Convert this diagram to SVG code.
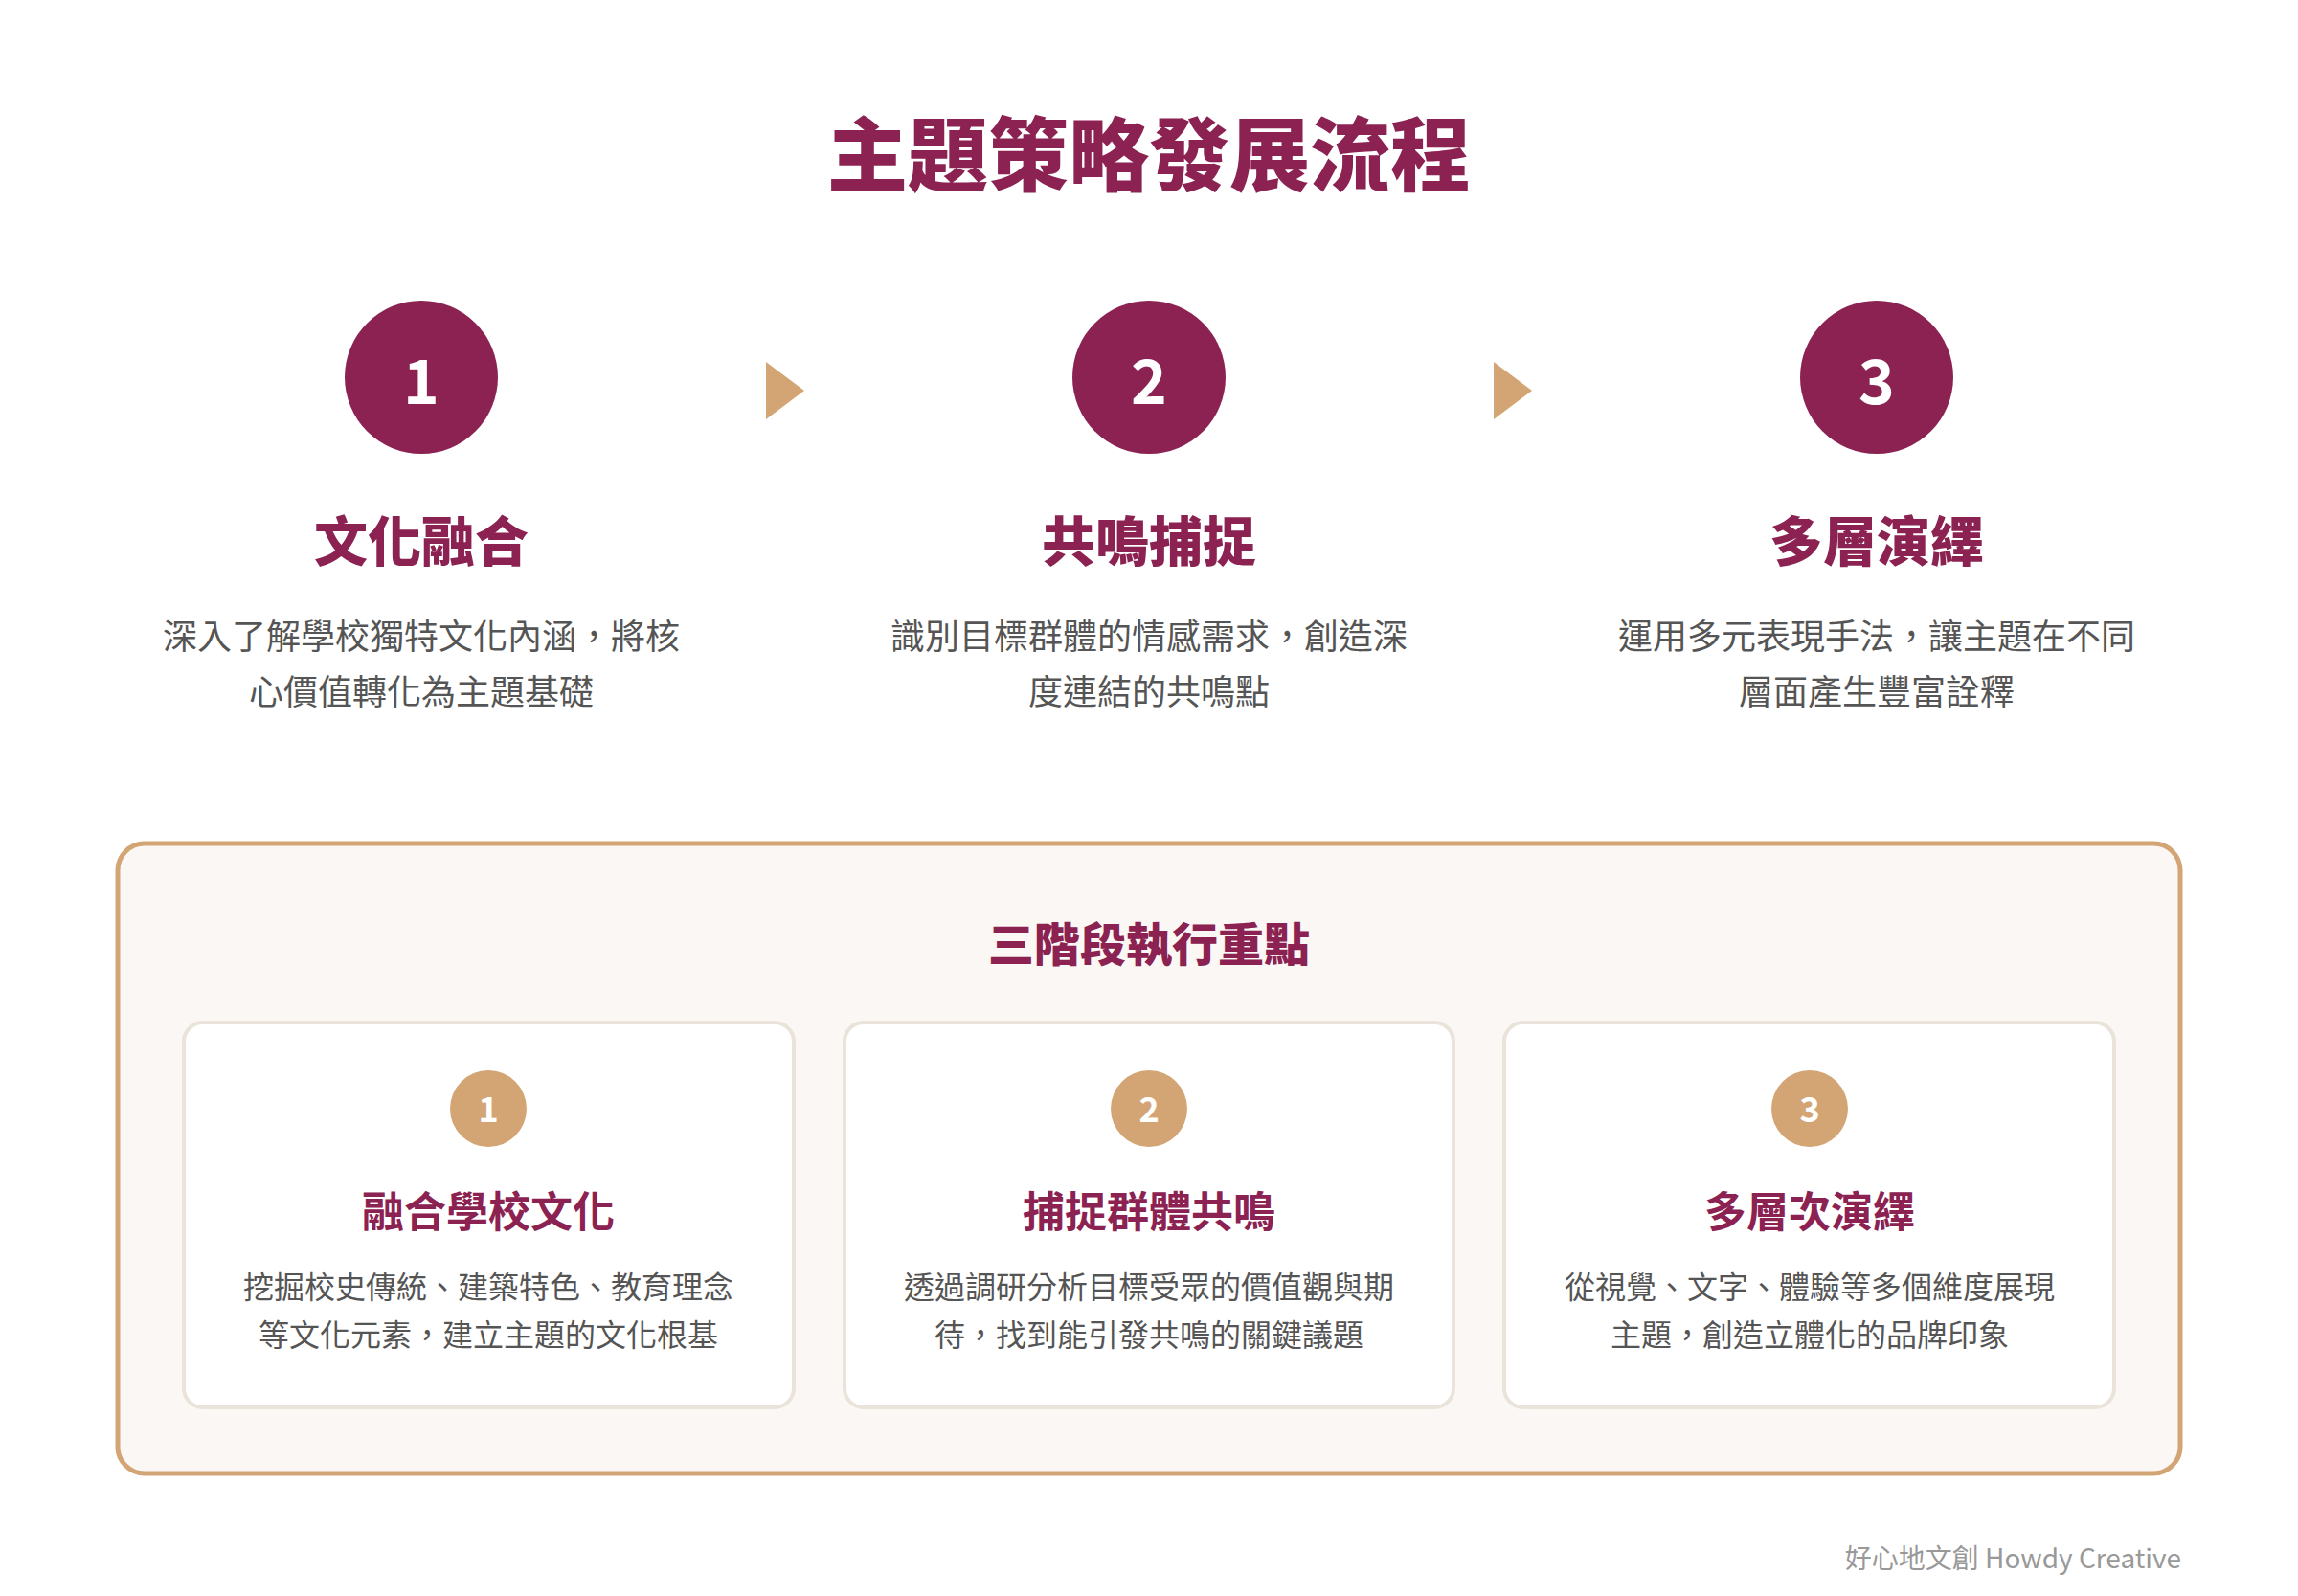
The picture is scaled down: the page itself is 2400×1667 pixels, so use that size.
<svg xmlns="http://www.w3.org/2000/svg" width="2400" height="1667" viewBox="0 0 2400 1667">
<style>
text{font-family:"Noto Sans CJK TC","Noto Sans CJK SC",sans-serif;text-anchor:middle}
.title{font-size:84px;font-weight:900;fill:#8B2252}
.bignum{fill:#8B2252}
.num{font-size:64px;font-weight:700;fill:#fff}
.stitle{font-size:56px;font-weight:900;fill:#8B2252}
.desc{font-size:36px;fill:#555}
.arrow{fill:#D4A574}
.box{fill:#FAF7F4;stroke:#D4A574;stroke-width:5}
.card{fill:#fff;stroke:#EAE3DA;stroke-width:4}
.snum{fill:#D4A574}
.snumt{font-size:36px;font-weight:700;fill:#fff}
.ctitle{font-size:44px;font-weight:700;fill:#8B2252}
.ctext{font-size:32px;fill:#555}
.sec{font-size:48px;font-weight:900;fill:#8B2252}
.foot{font-size:28px;fill:#999;text-anchor:end}
</style>
<rect width="2400" height="1667" fill="#fff"/>
<text class="title" x="1200" y="193">主題策略發展流程</text>

<g id="step1">
<circle class="bignum" cx="440" cy="394" r="80"/>
<text class="num" x="440" y="422">1</text>
<text class="stitle" x="440" y="586">文化融合</text>
<text class="desc" x="440" y="678">深入了解學校獨特文化內涵，將核</text>
<text class="desc" x="440" y="736">心價值轉化為主題基礎</text>
</g>
<g id="step2">
<circle class="bignum" cx="1200" cy="394" r="80"/>
<text class="num" x="1200" y="422">2</text>
<text class="stitle" x="1200" y="586">共鳴捕捉</text>
<text class="desc" x="1200" y="678">識別目標群體的情感需求，創造深</text>
<text class="desc" x="1200" y="736">度連結的共鳴點</text>
</g>
<g id="step3">
<circle class="bignum" cx="1960" cy="394" r="80"/>
<text class="num" x="1960" y="422">3</text>
<text class="stitle" x="1960" y="586">多層演繹</text>
<text class="desc" x="1960" y="678">運用多元表現手法，讓主題在不同</text>
<text class="desc" x="1960" y="736">層面產生豐富詮釋</text>
</g>

<g id="connectors">
<polygon class="arrow" points="800,378 840,408 800,438"/>
<polygon class="arrow" points="1560,378 1600,408 1560,438"/>
</g>

<g id="summary">
<rect class="box" x="123" y="881" width="2154" height="658" rx="28"/>
<text class="sec" x="1200" y="1004">三階段執行重點</text>
</g>

<g id="card1">
<rect class="card" x="192" y="1068" width="637" height="402" rx="20"/>
<circle class="snum" cx="510" cy="1158" r="40"/>
<text class="snumt" x="510" y="1172">1</text>
<text class="ctitle" x="510" y="1282">融合學校文化</text>
<text class="ctext" x="510" y="1356">挖掘校史傳統、建築特色、教育理念</text>
<text class="ctext" x="510" y="1406">等文化元素，建立主題的文化根基</text>
</g>
<g id="card2">
<rect class="card" x="882" y="1068" width="636" height="402" rx="20"/>
<circle class="snum" cx="1200" cy="1158" r="40"/>
<text class="snumt" x="1200" y="1172">2</text>
<text class="ctitle" x="1200" y="1282">捕捉群體共鳴</text>
<text class="ctext" x="1200" y="1356">透過調研分析目標受眾的價值觀與期</text>
<text class="ctext" x="1200" y="1406">待，找到能引發共鳴的關鍵議題</text>
</g>
<g id="card3">
<rect class="card" x="1571" y="1068" width="637" height="402" rx="20"/>
<circle class="snum" cx="1890" cy="1158" r="40"/>
<text class="snumt" x="1890" y="1172">3</text>
<text class="ctitle" x="1890" y="1282">多層次演繹</text>
<text class="ctext" x="1890" y="1356">從視覺、文字、體驗等多個維度展現</text>
<text class="ctext" x="1890" y="1406">主題，創造立體化的品牌印象</text>
</g>

<text class="foot" x="2278" y="1638">好心地文創 Howdy Creative</text>
</svg>
